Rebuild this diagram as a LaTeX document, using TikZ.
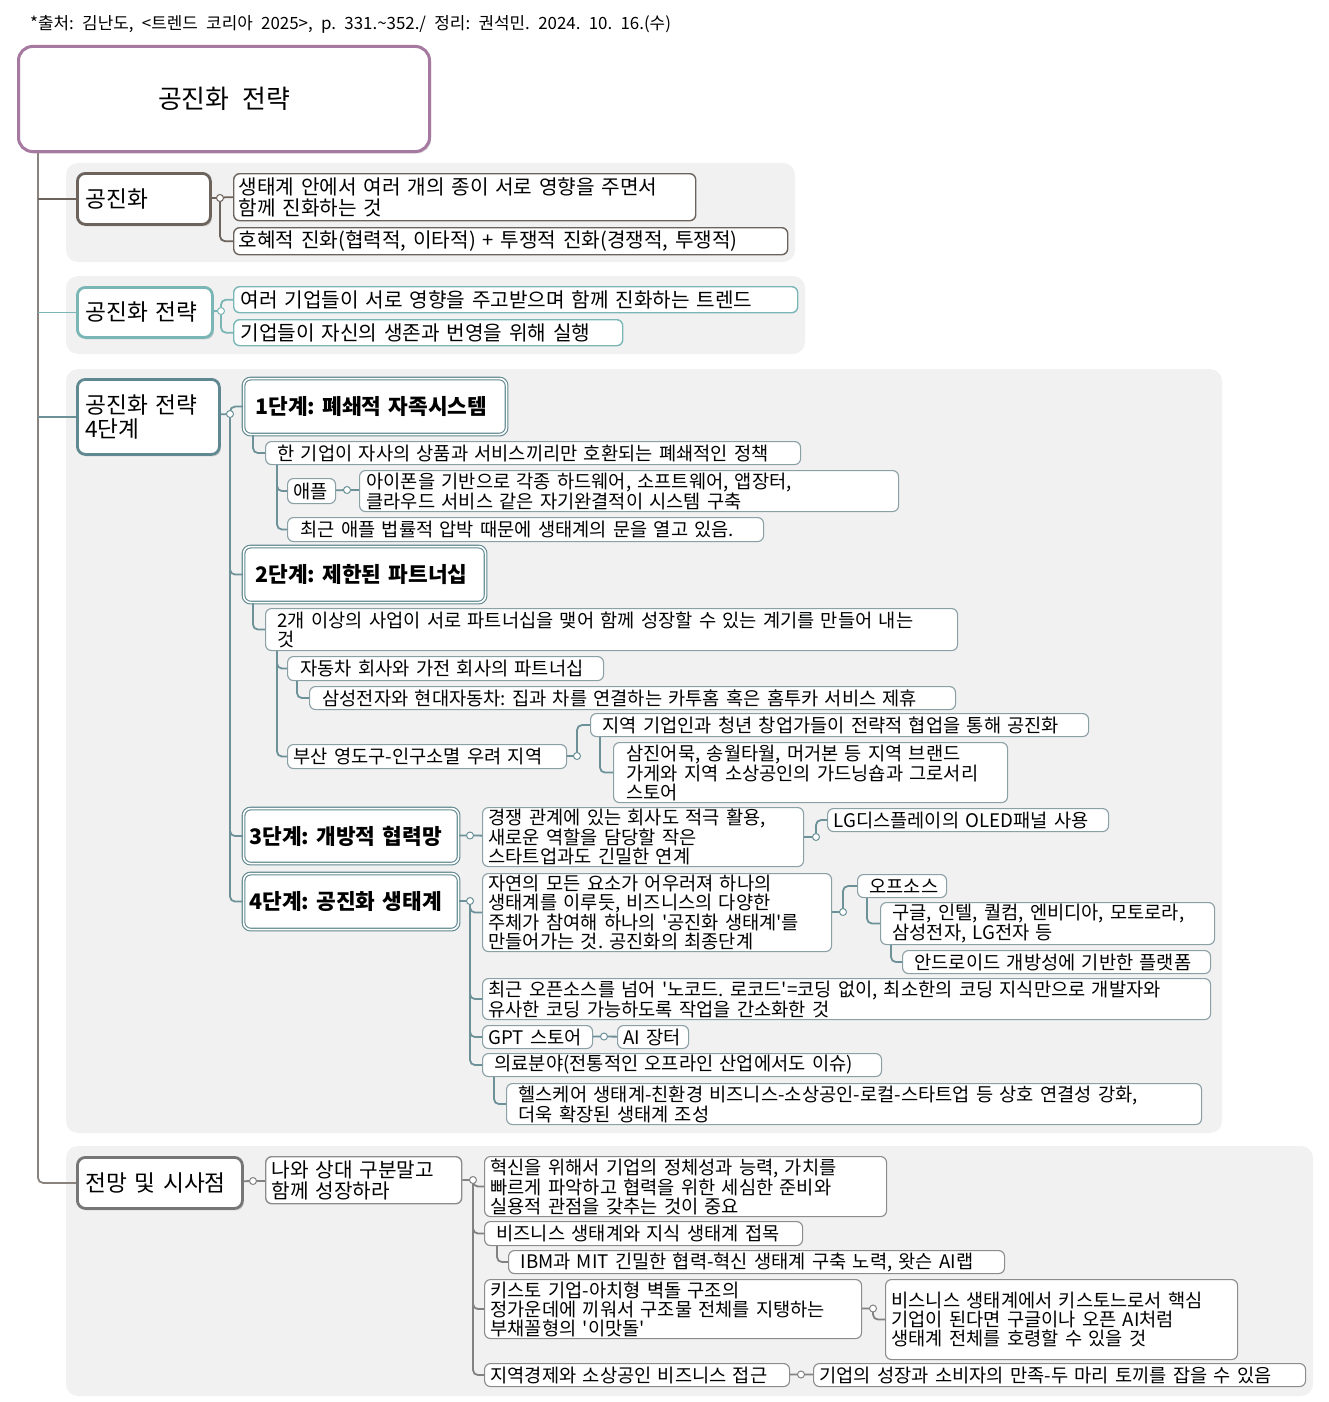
\documentclass[tikz,border=0pt]{standalone}
\usepackage{fontspec}
\setmainfont{Noto Sans CJK KR}[WordSpace=2.2]
\frenchspacing
\usetikzlibrary{shadows}
\definecolor{rootc}{RGB}{166,121,160}
\definecolor{trunkc}{RGB}{137,130,125}
\definecolor{taupec}{RGB}{108,99,93}
\definecolor{tealc}{RGB}{122,182,182}
\definecolor{slatec}{RGB}{96,136,144}
\definecolor{slateln}{RGB}{108,145,152}
\definecolor{slatebd}{RGB}{138,160,165}
\definecolor{grayc}{RGB}{118,118,118}
\definecolor{grayln}{RGB}{130,130,130}
\definecolor{graybd}{RGB}{140,140,140}
\definecolor{grpbg}{RGB}{241,241,241}
\newcommand\fsHead{\fontsize{16.9pt}{19pt}\selectfont}
\newcommand\fsRoot{\fontsize{25.9pt}{28pt}\selectfont}
\newcommand\fsTop{\fontsize{22.7pt}{24pt}\selectfont}
\newcommand\fsSub{\fontsize{20.2pt}{21pt}\selectfont}
\newcommand\fsStage{\fontsize{21.4pt}{23pt}\selectfont\bfseries}
\newcommand\fsLeaf{\fontsize{18.7pt}{19pt}\selectfont}
\begin{document}
\begin{tikzpicture}[x=1pt,y=-1pt,pad/.style={execute at begin node={\leftskip=#1pt}}]
  \tikzstyle{grp}=[fill=grpbg,rounded corners=12pt]
  \tikzstyle{box}=[draw,fill=white,anchor=north west,inner sep=0pt,align=left]
  \tikzstyle{topic}=[box,line width=2.8pt,rounded corners=8pt,font=\fsTop,pad=8,
    drop shadow={shadow xshift=1.5pt,shadow yshift=-2pt,opacity=.3}]
  \tikzstyle{sub}=[box,line width=1.4pt,rounded corners=6pt,font=\fsSub]
  \tikzstyle{stage}=[box,draw=slatec,double=white,double distance=1.6pt,line width=1.1pt,rounded corners=7pt,font=\fsStage]
  \tikzstyle{leafC}=[box,draw=slatebd,line width=1.1pt,rounded corners=6pt,font=\fsLeaf]
  \tikzstyle{leafD}=[leafC,draw=graybd]
  \tikzstyle{ln}=[line width=1.8pt,rounded corners=5pt]
  \tikzstyle{dot}=[circle,draw,fill=white,line width=1pt,inner sep=0pt,minimum size=7pt]
  \useasboundingbox (0,0) rectangle (1328,1402);
  \fill[grp] (66,163) rectangle (795,262);
  \fill[grp] (66,276) rectangle (805,354);
  \fill[grp] (66,369) rectangle (1222,1133);
  \fill[grp] (66,1146) rectangle (1313,1396);

  \node[anchor=west,inner sep=0pt,font=\fsHead] (src) at (30,24) {*출처: 김난도, <트렌드 코리아 2025>, p. 331.\textasciitilde352./ 정리: 권석민. 2024. 10. 16.(수)};
  \node[draw=rootc,line width=3pt,rounded corners=14pt,fill=white,anchor=north west,minimum width=411pt,minimum height=105pt,font=\fsRoot,
    drop shadow={shadow xshift=1.5pt,shadow yshift=-2pt,opacity=.3}] (root) at (17,45) {공진화 전략};

  \node[topic,draw=taupec,text width=133pt,minimum height=51pt] (A) at (76,172) {공진화};
  \node[topic,draw=tealc,text width=135pt,minimum height=50pt] (B) at (76,286) {공진화 전략};
  \node[topic,draw=slatec,text width=142pt,minimum height=75pt] (C) at (76,378) {공진화 전략\\4단계};
  \node[topic,draw=grayc,text width=165pt,minimum height=51pt] (D) at (76,1156) {전망 및 시사점};

  \node[sub,draw=taupec,pad=5,text width=462pt,minimum height=47pt] (A1) at (233,173) {생태계 안에서 여러 개의 종이 서로 영향을 주면서\\함께 진화하는 것};
  \node[sub,draw=taupec,pad=5,text width=554pt,minimum height=27pt] (A2) at (233,227) {호혜적 진화(협력적, 이타적) + 투쟁적 진화(경쟁적, 투쟁적)};
  \node[sub,draw=tealc,pad=7,text width=564pt,minimum height=26pt] (B1) at (233,286) {여러 기업들이 서로 영향을 주고받으며 함께 진화하는 트렌드};
  \node[sub,draw=tealc,pad=7,text width=389pt,minimum height=26pt] (B2) at (233,319) {기업들이 자신의 생존과 번영을 위해 실행};

  \node[stage,pad=12,text width=263pt,minimum height=56pt] (S1) at (243,378) {1단계: 폐쇄적 자족시스템};
  \node[leafC,pad=12,text width=535pt,minimum height=23pt] (S1a) at (265,441) {한 기업이 자사의 상품과 서비스끼리만 호환되는 폐쇄적인 정책};
  \node[leafC,pad=6,text width=48pt,minimum height=25pt] (S1a1) at (287,478) {애플};
  \node[leafC,pad=7,text width=539pt,minimum height=41pt] (S1a1a) at (359,470) {아이폰을 기반으로 각종 하드웨어, 소프트웨어, 앱장터,\\클라우드 서비스 같은 자기완결적이 시스템 구축};
  \node[leafC,pad=13,text width=476pt,minimum height=24pt] (S1a2) at (287,517) {최근 애플 법률적 압박 때문에 생태계의 문을 열고 있음.};

  \node[stage,pad=12,text width=242pt,minimum height=56pt] (S2) at (243,546) {2단계: 제한된 파트너십};
  \node[leafC,pad=12,text width=692pt,minimum height=42pt] (S2a) at (265,608) {2개 이상의 사업이 서로 파트너십을 맺어 함께 성장할 수 있는 계기를 만들어 내는\\것};
  \node[leafC,pad=13,text width=316pt,minimum height=24pt] (S2a1) at (287,656) {자동차 회사와 가전 회사의 파트너십};
  \node[leafC,pad=13,text width=646pt,minimum height=23pt] (S2a1a) at (309,686) {삼성전자와 현대자동차: 집과 차를 연결하는 카투홈 혹은 홈투카 서비스 제휴};
  \node[leafC,pad=6,text width=279pt,minimum height=24pt] (S2a2) at (287,744) {부산 영도구-인구소멸 우려 지역};
  \node[leafC,pad=12,text width=498pt,minimum height=23pt] (S2a2a) at (590,713) {지역 기업인과 청년 창업가들이 전략적 협업을 통해 공진화};
  \node[leafC,pad=13,text width=394pt,minimum height=60pt] (S2a2a1) at (613,742) {삼진어묵, 송월타월, 머거본 등 지역 브랜드\\가게와 지역 소상공인의 가드닝숍과 그로서리\\스토어};

  \node[stage,pad=6,text width=215pt,minimum height=55pt] (S3) at (243,808) {3단계: 개방적 협력망};
  \node[leafC,pad=6,text width=321pt,minimum height=59pt] (S3a) at (482,807) {경쟁 관계에 있는 회사도 적극 활용,\\새로운 역할을 담당할 작은\\스타트업과도 긴밀한 연계};
  \node[leafC,pad=6,text width=281pt,minimum height=23pt] (S3a1) at (827,808) {LG디스플레이의 OLED패널 사용};

  \node[stage,pad=6,text width=215pt,minimum height=56pt] (S4) at (243,873) {4단계: 공진화 생태계};
  \node[leafC,pad=6,text width=349pt,minimum height=78pt] (S4a) at (482,873) {자연의 모든 요소가 어우러져 하나의\\생태계를 이루듯, 비즈니스의 다양한\\주체가 참여해 하나의 \textquotesingle 공진화 생태계\textquotesingle 를\\만들어가는 것. 공진화의 최종단계};
  \node[leafC,pad=12,text width=89pt,minimum height=23pt] (S4a1) at (857,874) {오프소스};
  \node[leafC,pad=12,text width=334pt,minimum height=42pt] (S4a1a) at (880,902) {구글, 인텔, 퀄컴, 엔비디아, 모토로라,\\삼성전자, LG전자 등};
  \node[leafC,pad=12,text width=308pt,minimum height=23pt] (S4a1a1) at (902,950) {안드로이드 개방성에 기반한 플랫폼};
  \node[leafC,pad=6,text width=728pt,minimum height=41pt] (S4b) at (482,978) {최근 오픈소스를 넘어 \textquotesingle 노코드. 로코드\textquotesingle =코딩 없이, 최소한의 코딩 지식만으로 개발자와\\유사한 코딩 가능하도록 작업을 간소화한 것};
  \node[leafC,pad=6,text width=110pt,minimum height=23pt] (S4c) at (482,1025) {GPT 스토어};
  \node[leafC,pad=6,text width=71pt,minimum height=23pt] (S4c1) at (617,1025) {AI 장터};
  \node[leafC,pad=12,text width=399pt,minimum height=23pt] (S4d) at (482,1053) {의료분야(전통적인 오프라인 산업에서도 이슈)};
  \node[leafC,pad=12,text width=695pt,minimum height=41pt] (S4d1) at (506,1083) {헬스케어 생태계-친환경 비즈니스-소상공인-로컬-스타트업 등 상호 연결성 강화,\\더욱 확장된 생태계 조성};

  \node[sub,draw=graybd,pad=6,text width=196pt,minimum height=47pt] (D1) at (265,1156) {나와 상대 구분말고\\함께 성장하라};
  \node[leafD,pad=6,text width=402pt,minimum height=60pt] (D1a) at (484,1156) {혁신을 위해서 기업의 정체성과 능력, 가치를\\빠르게 파악하고 협력을 위한 세심한 준비와\\실용적 관점을 갖추는 것이 중요};
  \node[leafD,pad=12,text width=318pt,minimum height=24pt] (D1b) at (484,1221) {비즈니스 생태계와 지식 생태계 접목};
  \node[leafD,pad=12,text width=496pt,minimum height=23pt] (D1b1) at (508,1250) {IBM과 MIT 긴밀한 협력-혁신 생태계 구축 노력, 왓슨 AI랩};
  \node[leafD,pad=6,text width=377pt,minimum height=59pt] (D1c) at (484,1279) {키스토 기업-아치형 벽돌 구조의\\정가운데에 끼워서 구조물 전체를 지탱하는\\부채꼴형의 \textquotesingle 이맛돌\textquotesingle};
  \node[leafD,pad=6,text width=352pt,minimum height=80pt] (D1c1) at (885,1279) {비스니스 생태계에서 키스토느로서 핵심\\기업이 된다면 구글이나 오픈 AI처럼\\생태계 전체를 호령할 수 있을 것};
  \node[leafD,pad=6,text width=305pt,minimum height=23pt] (D1d) at (484,1363) {지역경제와 소상공인 비즈니스 접근};
  \node[leafD,pad=6,text width=492pt,minimum height=23pt] (D1d1) at (813,1363) {기업의 성장과 소비자의 만족-두 마리 토끼를 잡을 수 있음};

  \coordinate (tk) at ([xshift=21pt]root.south west);
  \draw[ln,trunkc] (tk) |- (D);
  \draw[ln,taupec] (tk |- A.west) -- (A);
  \draw[ln,tealc] (tk |- B.west) -- (B);
  \draw[ln,slateln] (tk |- C.west) -- (C);

  \coordinate (cA) at (220,198);
  \draw[ln,taupec] (A) -- (cA) (cA) |- (A1) (cA) |- (A2);
  \coordinate (cB) at (221,311);
  \draw[ln,tealc] (B) -- (cB) (cB) |- (B1) (cB) |- (B2);

  \coordinate (cC) at (230,414);
  \draw[ln,slateln] (C) -- (cC) (cC) |- (S1) (cC) |- (S2) (cC) |- (S3) (cC) |- (S4);
  \draw[ln,slateln] ([xshift=10pt]S1.south west) |- (S1a);
  \draw[ln,slateln] ([xshift=12pt]S1a.south west) |- (S1a1) ([xshift=12pt]S1a.south west) |- (S1a2);
  \coordinate (cS1) at (347,490);
  \draw[ln,slateln] (S1a1) -- (cS1) (cS1) -- (S1a1a);
  \draw[ln,slateln] ([xshift=10pt]S2.south west) |- (S2a);
  \draw[ln,slateln] ([xshift=12pt]S2a.south west) |- (S2a1) ([xshift=12pt]S2a.south west) |- (S2a2);
  \draw[ln,slateln] ([xshift=10pt]S2a1.south west) |- (S2a1a);
  \coordinate (cS2) at (577,756);
  \draw[ln,slateln] (S2a2) -- (cS2) (cS2) |- (S2a2a);
  \draw[ln,slateln] ([xshift=10pt]S2a2a.south west) |- (S2a2a1);
  \coordinate (cS3) at (470,835.5);
  \draw[ln,slateln] (S3) -- (cS3) (cS3) -- (S3a);
  \coordinate (cS3a) at (816,837);
  \draw[ln,slateln] (S3a) -- (cS3a) (cS3a) |- (S3a1);
  \coordinate (cS4) at (470,901);
  \draw[ln,slateln] (S4) -- (cS4) (cS4) |- (S4a) (cS4) |- (S4b) (cS4) |- (S4c) (cS4) |- (S4d);
  \coordinate (cS4a) at (843,912);
  \draw[ln,slateln] (S4a) -- (cS4a) (cS4a) |- (S4a1);
  \draw[ln,slateln] ([xshift=10pt]S4a1.south west) |- (S4a1a);
  \draw[ln,slateln] ([xshift=11pt]S4a1a.south west) |- (S4a1a1);
  \coordinate (cS4c) at (604,1036.5);
  \draw[ln,slateln] (S4c) -- (cS4c) (cS4c) -- (S4c1);
  \draw[ln,slateln] ([xshift=12pt]S4d.south west) |- (S4d1);

  \coordinate (cD) at (253,1181);
  \draw[ln,grayln] (D) -- (cD) (cD) -- (D1);
  \coordinate (cD1) at (473,1180);
  \draw[ln,grayln] (D1) -- (cD1) (cD1) |- (D1a) (cD1) |- (D1b) (cD1) |- (D1c) (cD1) |- (D1d);
  \draw[ln,grayln] ([xshift=13pt]D1b.south west) |- (D1b1);
  \coordinate (cD1c) at (873,1308.5);
  \draw[ln,grayln] (D1c) -- (cD1c) (cD1c) |- (D1c1);
  \coordinate (cD1d) at (801,1374.5);
  \draw[ln,grayln] (D1d) -- (cD1d) (cD1d) -- (D1d1);

  \foreach \c/\col in {cA/taupec,cB/tealc,cC/slateln,cS1/slateln,cS2/slateln,cS3/slateln,cS3a/slateln,
      cS4/slateln,cS4a/slateln,cS4c/slateln,cD/grayln,cD1/grayln,cD1c/grayln,cD1d/grayln}
    \node[dot,draw=\col] at (\c) {};
\end{tikzpicture}
\end{document}
